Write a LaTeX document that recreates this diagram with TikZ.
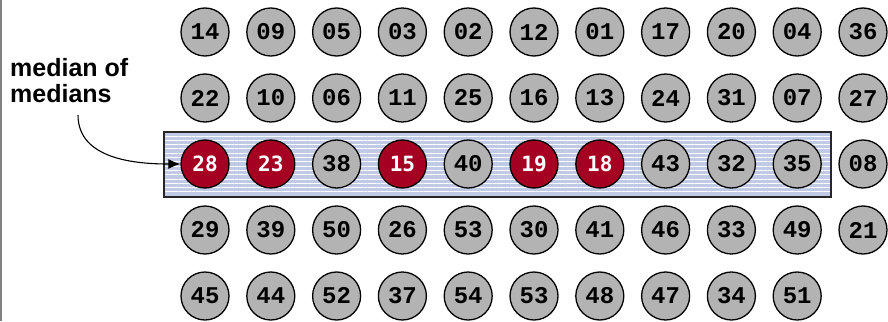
\documentclass[tikz,border=0pt]{standalone}
\usepackage{fontspec}
\setmainfont{Liberation Sans}
\newfontfamily\ballfont{Liberation Mono}
\newfontfamily\redfont{DejaVu Sans Mono}
\usetikzlibrary{arrows.meta,patterns.meta}
\definecolor{ballgray}{RGB}{179,179,179}
\definecolor{ballred}{RGB}{165,0,33}
\definecolor{boxblue}{RGB}{192,202,228}
\begin{document}
\begin{tikzpicture}[x=1pt,y=-1pt,
		ball/.style={circle,draw=black,line width=1.3pt,fill=ballgray,minimum size=48pt,inner sep=0pt,font=\ballfont\bfseries\fontsize{24}{24}\selectfont},
		redball/.style={ball,fill=ballred,text=white,font=\redfont\bfseries\fontsize{21}{21}\selectfont}]
		\useasboundingbox (0,0) rectangle (888,321);
		\draw [gray,line width=2pt] (1,0) -- (1,321);
		% the box round the medians
		\fill [boxblue] (164,132) rectangle (831,197);
		\fill [pattern={Lines[angle=0,distance=4.3pt,line width=1pt]},pattern color=white] (164,132) rectangle (831,197);
		\draw [black!85,line width=1.3pt] (164,132) rectangle (831,197);
		\foreach \v [count=\c from 0] in {14,09,05,03,02,12,01,17,20,04,36}
			\node [ball] (n0-\c) at (205+65.8*\c,32) {\v};
		\foreach \v [count=\c from 0] in {22,10,06,11,25,16,13,24,31,07,27}
			\node [ball] (n1-\c) at (205+65.8*\c,98) {\v};
		\foreach \v/\s [count=\c from 0] in {28/redball,23/redball,38/ball,15/redball,40/ball,19/redball,18/redball,43/ball,32/ball,35/ball,08/ball}
			\node [\s] (n2-\c) at (205+65.8*\c,164) {\v};
		\foreach \v [count=\c from 0] in {29,39,50,26,53,30,41,46,33,49,21}
			\node [ball] (n3-\c) at (205+65.8*\c,230) {\v};
		\foreach \v [count=\c from 0] in {45,44,52,37,54,53,48,47,34,51}
			\node [ball] (n4-\c) at (205+65.8*\c,296) {\v};
		\node [anchor=north west,align=left,inner sep=0pt,font=\bfseries\fontsize{25}{26}\selectfont] (mom) at (10,58) {median of\\medians};
		\coordinate (momfoot) at (78,115);
		\draw [line width=1.1pt,-{Latex[length=12pt,width=10pt]}] (momfoot) to[out=-90,in=180] (n2-0.west);
	\end{tikzpicture}
\end{document}
